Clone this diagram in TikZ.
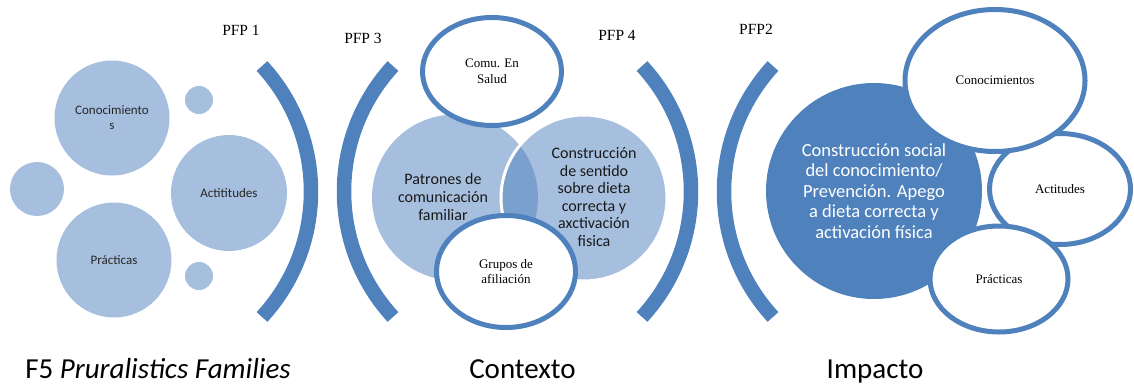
\documentclass[tikz,border=0pt]{standalone}
\usepackage{fontspec}
\setmainfont{Liberation Serif}
\newfontfamily\carl{Carlito}
\usetikzlibrary{shapes.geometric}
\definecolor{lightb}{HTML}{A7BFDE}
\definecolor{midb}{HTML}{7BA0CD}
\definecolor{darkb}{HTML}{4F81BD}
\begin{document}
\begin{tikzpicture}[x=1pt,y=-1pt,
 bubble/.style={circle, fill=lightb, inner sep=0pt, align=center, font=\carl\fontsize{13}{15}\selectfont, text=black!85},
 ring/.style={ellipse, draw=darkb, line width=5pt, fill=white, inner sep=0pt, align=center, font=\fontsize{13}{15.5}\selectfont},
 bracket/.style={draw=darkb, line width=14.5pt},
 pfp/.style={font=\fontsize{15.5}{18}\selectfont, anchor=base},
 title/.style={font=\carl\fontsize{29}{34}\selectfont, anchor=base},
 venn/.style={circle, fill=lightb, inner sep=0pt, minimum size=166pt},
 venntext/.style={align=center, font=\carl\fontsize{16}{17.6}\selectfont, text=black!90}
]
\useasboundingbox (0,0) rectangle (1134,383);

% ---------- F5 section ----------
\node[bubble, minimum size=115pt] (kn) at (112,118) {Conocimiento\\s};
\node[bubble, minimum size=28pt] (s1) at (199,100) {};
\node[bubble, minimum size=54pt] (s2) at (37,189) {};
\node[bubble, minimum size=116pt] (at) at (229,193) {Actititudes};
\node[bubble, minimum size=115pt] (pr) at (114,260) {Prácticas};
\node[bubble, minimum size=28pt] (s3) at (199,276) {};

% ---------- brackets ----------
\draw[bracket] ([shift={(42.65:185.2pt)}]125.8,191.5) arc[start angle=42.65, end angle=-42.65, radius=185.2pt];
\draw[bracket] ([shift={(137.35:185.2pt)}]529.2,191.5) arc[start angle=137.35, end angle=222.65, radius=185.2pt];
\draw[bracket] ([shift={(42.65:185.2pt)}]505.8,191.5) arc[start angle=42.65, end angle=-42.65, radius=185.2pt];
\draw[bracket] ([shift={(137.35:185.2pt)}]909.2,191.5) arc[start angle=137.35, end angle=222.65, radius=185.2pt];

\node[pfp] (p1) at (241,35) {PFP 1};
\node[pfp] (p3) at (363,43) {PFP 3};
\node[pfp] (p4) at (617,40) {PFP 4};
\node[pfp] (p2) at (756,34) {PFP2};

% ---------- Contexto section ----------
\node[venn] (pat) at (455,197.5) {};
\node[venn] (con) at (584,198) {};
\begin{scope}
\clip (pat.center) circle[radius=83pt];
\fill[midb] (con.center) circle[radius=83pt];
\end{scope}
\draw[white, line width=3pt] (con.center) circle[radius=83pt];
\node[venntext] (patt) at (443,197) {Patrones de\\comunicación\\familiar};
\node[venntext] (cont) at (594,197) {Construcción\\de sentido\\sobre dieta\\correcta y\\axctivación\\fisica};
\node[ring, minimum width=139pt, minimum height=108pt] (comu) at (492,71.5) {Comu. En\\Salud};
\node[ring, minimum width=139pt, minimum height=112pt] (gru) at (506,271.5) {Grupos de\\afiliación};

% ---------- Impacto section ----------
\node[circle, fill=darkb, inner sep=0pt, minimum size=216pt] (big) at (874,191) {};
\node[text=white, font=\carl\fontsize{18.5}{20.4}\selectfont, align=center] (bigt) at (874,191) {Construcción social\\del conocimiento/\\Prevención. Apego\\a dieta correcta y\\activación física};
\node[ring, minimum width=141pt, minimum height=111pt] (act) at (1060,189) {Actitudes};
\node[ring, minimum width=180pt, minimum height=142pt] (cono) at (995,80.5) {Conocimientos};
\node[ring, minimum width=138pt, minimum height=106pt] (pra) at (999,279) {Prácticas};

% ---------- titles ----------
\node[title] (t1) at (158,378) {F5 \textit{Pruralistics Families}};
\node[title] (t2) at (522.5,378) {Contexto};
\node[title] (t3) at (875,378) {Impacto};
\end{tikzpicture}
\end{document}
